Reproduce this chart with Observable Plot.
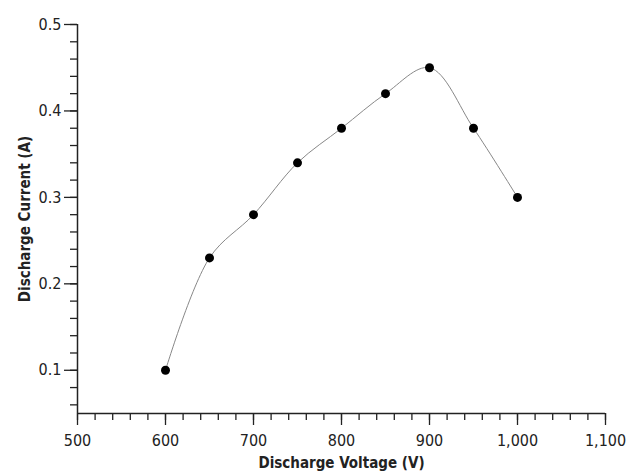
<!DOCTYPE html>
<html>
<head>
<meta charset="utf-8">
<script src="https://cdn.jsdelivr.net/npm/d3@7"></script>
<script src="https://cdn.jsdelivr.net/npm/@observablehq/plot@0.6"></script>
<style>
  html, body { margin: 0; padding: 0; background: #fff; }
  #chart svg { display: block; }
</style>
</head>
<body>
<div id="chart"></div>
<script>
const voltage = [600, 650, 700, 750, 800, 850, 900, 950, 1000];
const current = [0.10, 0.23, 0.28, 0.34, 0.38, 0.42, 0.45, 0.38, 0.30];
const xMajorTicks = [500, 600, 700, 800, 900, 1000, 1100];
const yMajorTicks = [0.1, 0.2, 0.3, 0.4, 0.5];
const xMinorTicks = d3.range(500, 1101, 20);
const yMinorTicks = d3.range(0.06, 0.501, 0.02).map(v => +v.toFixed(2));

const data = voltage.map((v, i) => ({v, c: current[i]}));
const font = "'DejaVu Sans Condensed', 'DejaVu Sans', Verdana, sans-serif";

const plot = Plot.plot({
  width: 638,
  height: 472,
  marginLeft: 77,
  marginRight: 33,
  marginTop: 24,
  marginBottom: 59,
  style: {fontFamily: font, color: "#222", background: "#fff"},
  x: {domain: [500, 1100]},
  y: {domain: [0.05, 0.5]},
  marks: [
    Plot.axisX({ticks: xMinorTicks, tickSize: 7, text: null, stroke: "#222", strokeWidth: 1.3, label: null}),
    Plot.axisX({ticks: xMajorTicks, tickSize: 12, tickPadding: 9, tickFormat: d3.format(","), stroke: "#222", strokeWidth: 1.3,
      label: "Discharge Voltage (V)", labelAnchor: "center", labelArrow: "none", labelOffset: 54}),
    Plot.axisY({ticks: yMinorTicks, tickSize: 7, text: null, stroke: "#222", strokeWidth: 1.3, label: null}),
    Plot.axisY({ticks: yMajorTicks, tickSize: 13, tickPadding: 3, tickFormat: d3.format(".1f"), stroke: "#222", strokeWidth: 1.3,
      label: "Discharge Current (A)", labelAnchor: "center", labelArrow: "none", labelOffset: 58}),
    Plot.ruleY([0.05], {stroke: "#222", strokeWidth: 1.5}),
    Plot.ruleX([500], {y1: 0.05, y2: 0.5, stroke: "#222", strokeWidth: 1.5}),
    Plot.line(data, {x: "v", y: "c", curve: "catmull-rom", stroke: "#888", strokeWidth: 1}),
    Plot.dot(data, {x: "v", y: "c", r: 4.5, fill: "#000", stroke: "none"})
  ]
});
const svg = d3.select(plot);
svg.selectAll("[aria-label$='tick label'], [aria-label$='tick label'] text")
  .attr("font-size", null).style("font-size", "16px").style("font-family", font);
svg.selectAll("[aria-label$='axis label'], [aria-label$='axis label'] text")
  .attr("font-size", null).style("font-weight", "bold").style("font-size", "15px").style("font-family", font);
document.getElementById("chart").appendChild(plot);
</script>
</body>
</html>
